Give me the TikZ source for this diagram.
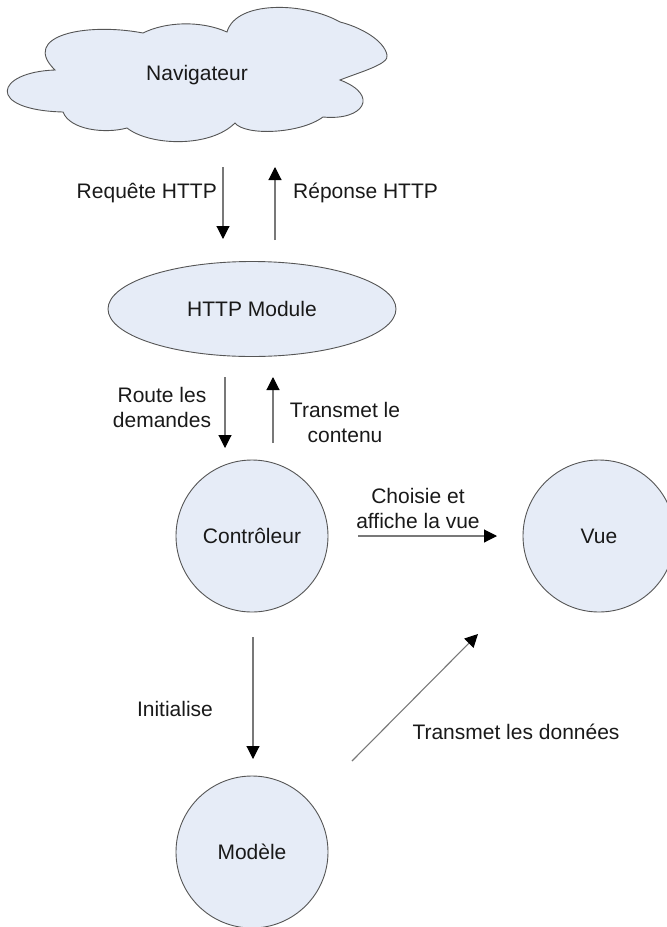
\documentclass[tikz,border=0pt]{standalone}
\usepackage{fontspec}
\setmainfont{Liberation Sans}
\usetikzlibrary{arrows.meta,shapes.geometric}

\definecolor{shapefill}{RGB}{230,236,247}
\definecolor{shapeline}{RGB}{85,85,85}
\definecolor{flowline}{RGB}{120,120,120}
\definecolor{inktext}{RGB}{25,25,25}

\tikzset{
  bubble/.style={circle, draw=shapeline, fill=shapefill, line width=0.9pt,
    minimum size=152pt, inner sep=0pt, text=inktext},
  oval/.style={ellipse, draw=shapeline, fill=shapefill, line width=0.9pt,
    minimum width=288pt, minimum height=95pt, inner sep=0pt, text=inktext},
  flow/.style={draw=flowline, line width=1.1pt,
    -{Triangle[width=13pt,length=13pt,fill=black,color=black]}},
  lbl/.style={text=inktext, inner sep=0pt, align=center},
  every node/.append style={font=\fontsize{21}{25}\selectfont},
}

\begin{document}
\begin{tikzpicture}[x=1pt,y=-1pt]
\useasboundingbox (0,0) rectangle (667,927);
\clip (0,0) rectangle (667,927);

% browser cloud
\draw[draw=shapeline, fill=shapefill, line width=0.9pt]
  (55,70)
  .. controls (-5,72) and (-15,110) .. (63,112)
  .. controls (70,130) and (105,134) .. (127,128)
  .. controls (150,146) and (210,148) .. (235,123)
  .. controls (245,136) and (300,134) .. (323,117)
  .. controls (364,121) and (380,95) .. (340,80)
  .. controls (360,72) and (390,64) .. (387,55)
  .. controls (384,40) and (360,27) .. (340,22)
  .. controls (305,2) and (236,0) .. (227,32)
  .. controls (200,20) and (165,22) .. (143,33)
  .. controls (85,22) and (20,36) .. (55,70)
  -- cycle;
\node[lbl] (nav) at (197,75) {Navigateur};

% main components
\node[oval]   (http) at (252,309) {HTTP Module};
\node[bubble] (ctrl) at (252,536) {Contrôleur};
\node[bubble] (vue)  at (599,536) {Vue};
\node[bubble] (mod)  at (252,852) {Modèle};

% arrow end points
\coordinate (reqA) at (223,167);  \coordinate (reqB) at (223,239);
\coordinate (repA) at (275,240);  \coordinate (repB) at (275,167);
\coordinate (rouA) at (225,377);  \coordinate (rouB) at (225,448);
\coordinate (traA) at (273,443);  \coordinate (traB) at (273,377);
\coordinate (choA) at (358,536);  \coordinate (choB) at (497,536);
\coordinate (iniA) at (253,637);  \coordinate (iniB) at (253,759);
\coordinate (donA) at (352,761);  \coordinate (donB) at (478,634);

% connectors
\draw[flow] (reqA) -- (reqB);
\draw[flow] (repA) -- (repB);
\draw[flow] (rouA) -- (rouB);
\draw[flow] (traA) -- (traB);
\draw[flow] (choA) -- (choB);
\draw[flow] (iniA) -- (iniB);
\draw[flow] (donA) -- (donB);

% connector labels
\node[lbl, anchor=east] (lreq) at (217,193) {Requête HTTP};
\node[lbl, anchor=west] (lrep) at (293,193) {Réponse HTTP};
\node[lbl] (lrou) at (162,407) {Route les\\demandes};
\node[lbl] (ltra) at (345,422) {Transmet le\\contenu};
\node[lbl] (lcho) at (418,508) {Choisie et\\affiche la vue};
\node[lbl] (lini) at (175,709) {Initialise};
\node[lbl] (ldon) at (516,732) {Transmet les données};
\end{tikzpicture}
\end{document}
